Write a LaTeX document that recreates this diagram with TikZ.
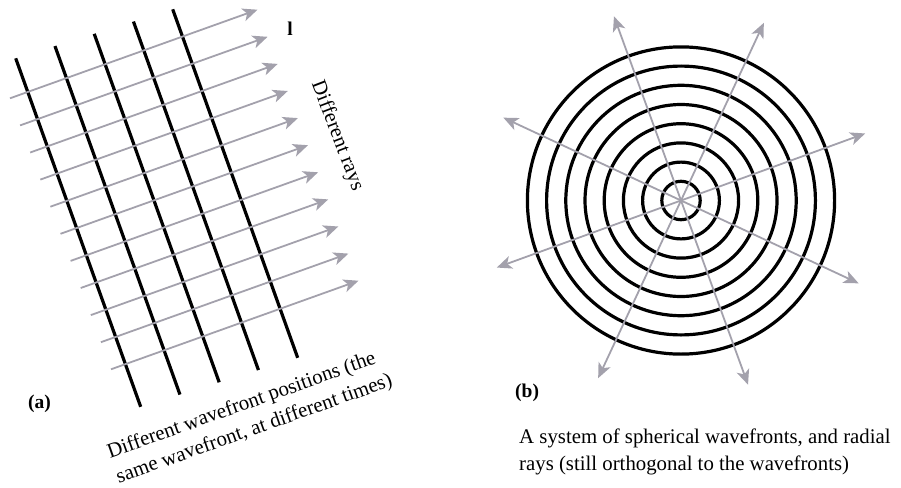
\documentclass[tikz,border=0pt]{standalone}
\usepackage{fontspec}
\setmainfont{Liberation Serif}
\usepackage{xcolor}
\usepackage{tikz}
\usetikzlibrary{arrows.meta,calc}

\definecolor{raygray}{RGB}{163,161,172}

\tikzset{
  front/.style={draw=black,line width=3.2pt},
  ray/.style={draw=raygray,line width=1.8pt,-{Stealth[length=15pt,width=13pt,inset=4pt]}},
  radial/.style={draw=raygray,line width=1.8pt,{Stealth[length=15pt,width=13pt,inset=4pt]}-{Stealth[length=15pt,width=13pt,inset=4pt]}},
  caption/.style={font=\fontsize{20.8}{26.5}\selectfont,inner sep=0pt},
  tag/.style={font=\fontsize{19.5}{23}\selectfont\bfseries,inner sep=0pt}
}

\begin{document}
\begin{tikzpicture}[x=1pt,y=-1pt]
  \useasboundingbox (0,0) rectangle (901,487);

  % (a) plane wavefronts and parallel rays
  \foreach \i in {0,...,4}
    \draw[front] ({15.7+39.25*\i},{58.3-12.25*\i}) -- ++(125,348.5);
  \foreach \j in {0,...,10}
    \draw[ray] ({10+10.1*\j},{98.3+27.1*\j}) -- ++(247.5,-88.6);

  \node[tag] (lab-l) at (290,29) {l};
  \node[caption,rotate=-69] (rays-a) at (337,136) {Different rays};
  \node[caption,rotate=19.6,align=left] (fronts-a) at (250,417)
    {Different wavefront positions (the\\same wavefront, at different times)};
  \node[tag,anchor=base west] (tag-a) at (28,408.5) {(a)};

  % (b) spherical wavefronts and radial rays
  \coordinate (ctr) at (681,200.5);
  \foreach \k in {1,...,8}
    \draw[front] (ctr) circle[radius=19.2pt*\k];
  \foreach \a in {-20,-65,-110,-155}
    \draw[radial] ($(ctr)+(\a+180:196)$) -- ($(ctr)+(\a:196)$);

  \node[tag,anchor=base west] (tag-b) at (515,397) {(b)};
  \node[caption,anchor=north west,align=left] (note-b) at (519,429)
    {A system of spherical wavefronts, and radial\\rays (still orthogonal to the wavefronts)};
\end{tikzpicture}
\end{document}
